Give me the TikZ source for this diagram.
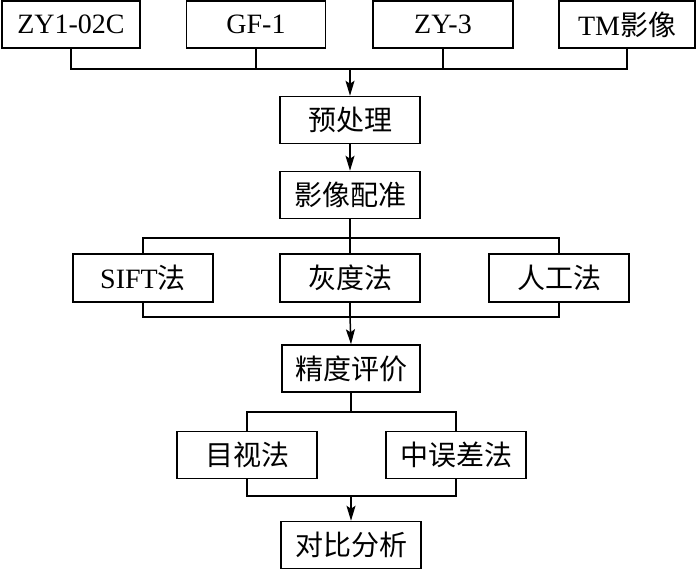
\documentclass[tikz,border=0pt]{standalone}
\usepackage{fontspec}
\setmainfont{Liberation Serif}
\newfontfamily\cjk{Noto Sans CJK SC}
\usetikzlibrary{arrows.meta}

\begin{document}
\begin{tikzpicture}[x=1pt,y=-1pt,line width=1.5pt,
		box/.style={draw,rectangle,minimum width=140pt,minimum height=47pt,inner sep=0pt,font=\fontsize{28}{30}\selectfont},
		arr/.style={-{Stealth[length=15pt,width=9pt,inset=3pt]}}]
		\useasboundingbox (0,0) rectangle (700,570);
		\node[box,minimum width=138pt] (zy1) at (71,24.5)  {ZY1-02C};
		\node[box,minimum width=139pt] (gf1) at (256,24.5) {GF-1};
		\node[box] (zy3) at (443,24.5) {ZY-3};
		\node[box,minimum width=136pt] (tm) at (627,24.5) {TM{\cjk 影像}};
		\node[box] (pre) at (350,120)  {\cjk 预处理};
		\node[box] (reg) at (350,195)  {\cjk 影像配准};
		\node[box,minimum height=48pt] (sift) at (143,278)  {SIFT{\cjk 法}};
		\node[box,minimum height=48pt] (gray) at (350,278)  {\cjk 灰度法};
		\node[box,minimum height=48pt] (man) at (559,278)   {\cjk 人工法};
		\node[box,minimum width=138pt] (acc) at (351,368.5)  {\cjk 精度评价};
		\node[box] (vis) at (247,455)  {\cjk 目视法};
		\node[box] (rmse) at (456,455) {\cjk 中误差法};
		\node[box] (cmp) at (351,545)  {\cjk 对比分析};

		\coordinate (b1) at (350,69);
		\coordinate (b2) at (350,238);
		\coordinate (b3) at (350,317);
		\coordinate (b4) at (351,412);
		\coordinate (b5) at (351,496);

		\foreach \from/\to in {zy1/b1,gf1/b1,zy3/b1,tm/b1}
			\draw (\from.south) |- (\to);
		\draw[arr] (b1) -- (pre.north);
		\draw[arr] (pre.south) -- (reg.north);
		\draw (reg.south) -- (b2);
		\foreach \to in {sift,gray,man}
			\draw (b2) -| (\to.north);
		\foreach \from in {sift,gray,man}
			\draw (\from.south) |- (b3);
		\draw[arr] (b3) -- (acc.north);
		\draw (acc.south) -- (b4);
		\foreach \to in {vis,rmse}
			\draw (b4) -| (\to.north);
		\foreach \from in {vis,rmse}
			\draw (\from.south) |- (b5);
		\draw[arr] (b5) -- (cmp.north);
	\end{tikzpicture}
\end{document}
